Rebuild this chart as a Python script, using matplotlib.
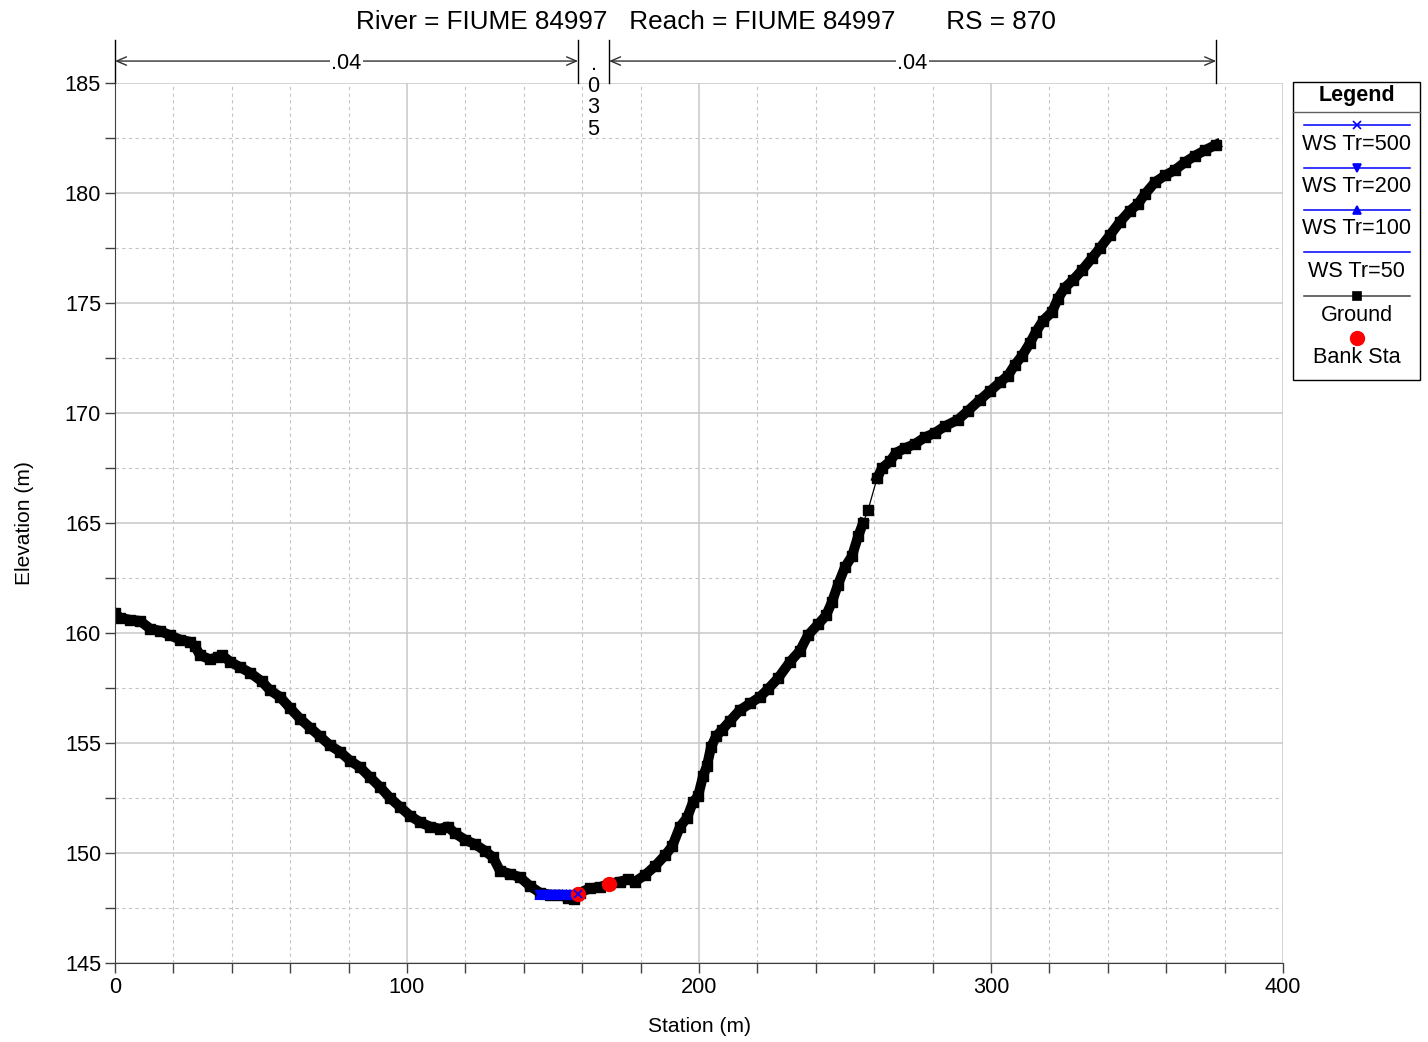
import numpy as np
import matplotlib.pyplot as plt
from matplotlib.lines import Line2D
from matplotlib.patches import Rectangle
from matplotlib.ticker import MultipleLocator

plt.rcParams['font.family'] = ['Liberation Sans', 'DejaVu Sans']

# ground profile (station m, elevation m)
ground_sta = [0, 1.7, 5.1, 8.6, 12, 15.4, 18.8, 22.3, 25.7, 27.4, 29.1, 32.5, 35.3, 36.6,
              39.4, 42.8, 46.2, 50.3, 53.1, 56.5, 59.9, 63.4, 66.8, 70.2, 73.6, 77.1,
              80.5, 83.9, 87.3, 90.8, 94.2, 97.6, 101, 104.5, 107.9, 111.3, 114, 116.4,
              119.9, 123.3, 126.7, 129.5, 131.8, 135.3, 138.7, 142.1, 145.5, 149, 152.4,
              155.1, 157.2, 159.2, 162.7, 166.1, 169.2, 172.9, 175.7, 178.1, 181.5, 184.9,
              188.4, 190.8, 193.5, 195.9, 197.9, 199.7, 201.4, 202.7, 204.1, 205.8, 207.9,
              210.6, 214, 217.5, 220.9, 223.6, 227.1, 231.2, 234.6, 237.3, 240.8, 243.5,
              245.5, 247.6, 250, 252.4, 254.5, 256.2, 257.9, 261, 262.7, 265.4, 267.5,
              270.5, 274, 277.4, 280.8, 284.2, 288.7, 292.1, 296.2, 299.7, 303.1, 305.8,
              308.2, 310.6, 313.4, 315.4, 317.8, 320.9, 322.9, 325.3, 328.1, 331.2, 334.6,
              337.3, 340.8, 344.2, 347.6, 350.3, 352.7, 356.2, 359.6, 363, 366.4, 369.9,
              373.3, 377.1]
ground_elev = [160.9, 160.7, 160.6, 160.55, 160.2, 160.1, 159.9, 159.7, 159.6, 159.4, 159.0,
               158.8, 158.9, 159.0, 158.7, 158.45, 158.2, 157.8, 157.4, 157.1, 156.6, 156.1,
               155.7, 155.3, 154.9, 154.6, 154.2, 153.9, 153.45, 153.0, 152.5, 152.1, 151.7,
               151.4, 151.2, 151.1, 151.2, 150.9, 150.6, 150.4, 150.1, 149.8, 149.2, 149.05,
               148.9, 148.5, 148.2, 148.1, 148.1, 147.95, 147.9, 148.2, 148.4, 148.45, 148.6,
               148.7, 148.8, 148.7, 149.0, 149.4, 149.9, 150.3, 151.2, 151.6, 152.3, 152.6,
               153.5, 153.95, 154.8, 155.3, 155.6, 156.0, 156.5, 156.8, 157.1, 157.45, 157.95,
               158.7, 159.2, 159.9, 160.4, 160.8, 161.4, 162.2, 163.0, 163.5, 164.4, 165.0,
               165.6, 167.05, 167.5, 167.8, 168.2, 168.4, 168.6, 168.9, 169.1, 169.4, 169.7,
               170.1, 170.6, 171.0, 171.4, 171.7, 172.2, 172.6, 173.2, 173.7, 174.2, 174.6,
               175.2, 175.7, 176.05, 176.5, 177.05, 177.5, 178.1, 178.7, 179.2, 179.5, 179.95,
               180.5, 180.8, 181.05, 181.4, 181.7, 181.95, 182.2]

# water surfaces
ws_sta = [145.5, 146.8, 148.1, 149.4, 150.7, 152, 153.3, 154.6, 155.9, 157.2, 158.6]
ws_levels = {'WS Tr=500': 148.13, 'WS Tr=200': 148.11, 'WS Tr=100': 148.09, 'WS Tr=50': 148.07}
ws_markers = {'WS Tr=500': 'x', 'WS Tr=200': 'v', 'WS Tr=100': '^', 'WS Tr=50': ''}

# bank stations
bank_sta = [158.6, 169.2]
bank_elev = [148.15, 148.6]

# manning n regions
n_edges = [0, 158.6, 169.2, 377.1]
n_values = ['.04', '.035', '.04']

# stretch where survey points are far apart (only thin line between squares)
sparse_from, sparse_to = 256.2, 261

fig = plt.figure(figsize=(14.28, 10.42), dpi=100)
ax = fig.add_axes([0.0805, 0.0758, 0.818, 0.8445])

sta = np.array(ground_sta)
elev = np.array(ground_elev)
ax.plot(sta, elev, color='black', lw=0.9, marker='s', ms=7.5, zorder=2)
# dense points merge into a solid band
lo = sta <= sparse_from
hi = sta >= sparse_to
ax.plot(sta[lo], elev[lo], color='black', lw=7.2, solid_joinstyle='round', zorder=2)
ax.plot(sta[hi], elev[hi], color='black', lw=7.2, solid_joinstyle='round', zorder=2)

for name, lev in ws_levels.items():
    ax.plot(ws_sta, [lev] * len(ws_sta), color='blue', lw=1.5,
            marker=ws_markers[name] or None, ms=6, mew=1.5, zorder=3)

ax.plot(bank_sta, bank_elev, 'o', color='red', ms=10, zorder=4)
ax.plot(bank_sta[:1], bank_elev[:1], 'x', color='blue', ms=6, mew=1.2, zorder=5)

ax.set_xlim(0, 400)
ax.set_ylim(145, 185)
ax.xaxis.set_major_locator(MultipleLocator(100))
ax.xaxis.set_minor_locator(MultipleLocator(20))
ax.yaxis.set_major_locator(MultipleLocator(5))
ax.yaxis.set_minor_locator(MultipleLocator(2.5))
ax.grid(which='major', color='#c8c8c8', lw=1.1, ls='-')
ax.grid(which='minor', color='#c4c4c4', lw=0.8, ls=(0, (3, 3)))
ax.set_axisbelow(True)
ax.tick_params(which='both', direction='out', length=7, width=1, color='#404040',
               labelsize=15.7, pad=3)
for side in ['top', 'right']:
    ax.spines[side].set_visible(False)
for side in ['left', 'bottom']:
    ax.spines[side].set_color('#404040')

ax.set_xlabel('Station (m)', fontsize=15.1, labelpad=14)
ax.set_ylabel('Elevation (m)', fontsize=15.1, labelpad=22)
fig.text(0.4945, 0.979, 'River = FIUME 84997   Reach = FIUME 84997       RS = 870',
         ha='center', va='center', fontsize=18.8)

# manning n annotation above the plot
tr = ax.get_xaxis_transform()
for x in n_edges:
    ax.plot([x, x], [1.0, 1.049], transform=tr, color='black', lw=1, clip_on=False)
for i in [0, 2]:
    a, b = n_edges[i], n_edges[i + 1]
    ax.annotate('', xy=(a, 1.025), xytext=(b, 1.025), xycoords=tr, textcoords=tr,
                arrowprops=dict(arrowstyle='<->,head_length=0.7,head_width=0.3',
                                color='#303030', lw=1, shrinkA=0, shrinkB=0))
    ax.text((a + b) / 2, 1.0225, n_values[i], transform=tr, ha='center', va='center',
            fontsize=15.7, bbox=dict(facecolor='white', edgecolor='none', pad=1))
mid = (n_edges[1] + n_edges[2]) / 2
for k, ch in enumerate(n_values[1]):
    ax.text(mid, 1.021 - k * 0.0245, ch, transform=tr, ha='center', va='center',
            fontsize=15.7)

# legend box drawn by hand in figure coordinates
W, H = 1428.0, 1042.0
def fx(px):
    return px / W
def fy(py):
    return 1 - py / H

fig.add_artist(Rectangle((fx(1293), fy(380)), fx(1420) - fx(1293), fy(82) - fy(380),
                         transform=fig.transFigure, facecolor='white', edgecolor='black', lw=1))
fig.text(fx(1356.5), fy(96), 'Legend', ha='center', va='center', fontsize=15.5, fontweight='bold')
fig.add_artist(Line2D([fx(1293), fx(1420)], [fy(112), fy(112)], color='#606060', lw=1))

entries = [('WS Tr=500', 125, 144, 'blue', 'x'),
           ('WS Tr=200', 168, 187, 'blue', 'v'),
           ('WS Tr=100', 210, 229, 'blue', '^'),
           ('WS Tr=50', 252, 272, 'blue', None),
           ('Ground', 296, 315, '#404040', 's')]
for label, ly, ty, col, mk in entries:
    fig.add_artist(Line2D([fx(1304), fx(1410)], [fy(ly), fy(ly)], color=col, lw=1.1))
    if mk:
        mc = 'blue' if col == 'blue' else 'black'
        fig.add_artist(Line2D([fx(1357)], [fy(ly)], marker=mk, color=mc, ms=6, mew=1.2))
    fig.text(fx(1356.5), fy(ty), label, ha='center', va='center', fontsize=15.6)
fig.add_artist(Line2D([fx(1357)], [fy(338)], marker='o', color='red', ms=10, ls='none'))
fig.text(fx(1356.5), fy(357), 'Bank Sta', ha='center', va='center', fontsize=15.6)

fig.savefig('out.png', dpi=100)
